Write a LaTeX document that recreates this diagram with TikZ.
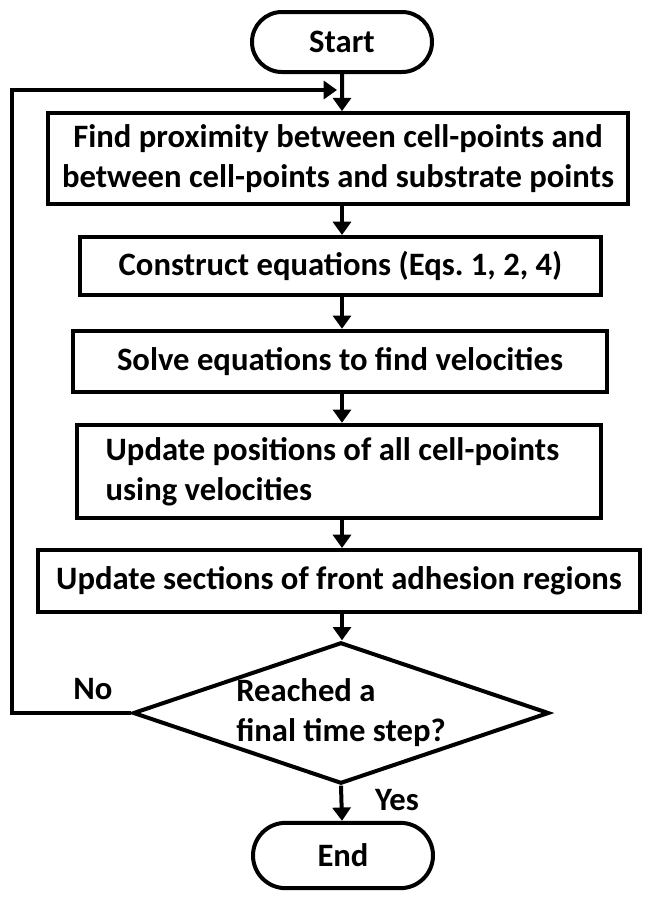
\documentclass[tikz,border=0pt]{standalone}
\usepackage{fontspec}
\setmainfont{Carlito}
\frenchspacing
\usetikzlibrary{arrows.meta,shapes.geometric,shapes.misc}
\tikzset{
  flow/.style={draw, line width=3pt, font=\bfseries\fontsize{24.5}{30}\selectfont, inner sep=0pt},
  terminal/.style={flow, rounded rectangle, minimum width=135pt},
  process/.style={flow, rectangle, align=center},
  decision/.style={flow, diamond, aspect=2.9, align=left, minimum width=312pt, minimum height=106pt},
  flow arrow/.style={line width=3pt, -{Triangle[length=10pt, width=13.5pt]}},
  flow label/.style={font=\bfseries\fontsize{24.5}{30}\selectfont, inner sep=0pt}
}
\begin{document}
\begin{tikzpicture}[x=0.75pt, y=-0.75pt]
  \useasboundingbox (0,0) rectangle (652,900);

  \node[terminal, minimum height=45pt] (start) at (342,42) {Start};
  \node[process, minimum width=435pt, minimum height=68pt] (proximity) at (338,158.5)
    {Find proximity between cell-points and\\between cell-points and substrate points};
  \node[process, minimum width=391pt, minimum height=43.5pt] (construct) at (340.5,266)
    {Construct equations (Eqs. 1, 2, 4)};
  \node[process, minimum width=400.5pt, minimum height=46pt] (solve) at (340,361.5)
    {Solve equations to find velocities};
  \node[process, align=flush left, text width=350pt, inner xsep=21.5pt, minimum height=70pt] (positions) at (339,471.5)
    {Update positions of all cell-points\\using velocities};
  \node[process, minimum width=451.5pt, minimum height=46.5pt] (sections) at (339,581)
    {Update sections of front adhesion regions};
  \node[decision] (check) at (341,713) {Reached a\\final time step?};
  \node[terminal, minimum height=49pt] (end) at (343,855.5) {End};

  \coordinate (back) at (12,90); % top left corner of the loop
  \coordinate (into) at (337,90);

  \draw[flow arrow] (start) -- (start |- proximity.north);
  \draw[flow arrow] (start |- proximity.south) -- (start |- construct.north);
  \draw[flow arrow] (start |- construct.south) -- (start |- solve.north);
  \draw[flow arrow] (start |- solve.south) -- (start |- positions.north);
  \draw[flow arrow] (start |- positions.south) -- (start |- sections.north);
  \draw[flow arrow] (start |- sections.south) -- (start |- check.north);
  \draw[flow arrow] (check.south) -- (end);
  \draw[flow arrow] (check.west) -| (back) -- (into);

  \node[flow label] (no) at (93,689) {No};
  \node[flow label] (yes) at (397,800) {Yes};
\end{tikzpicture}
\end{document}
